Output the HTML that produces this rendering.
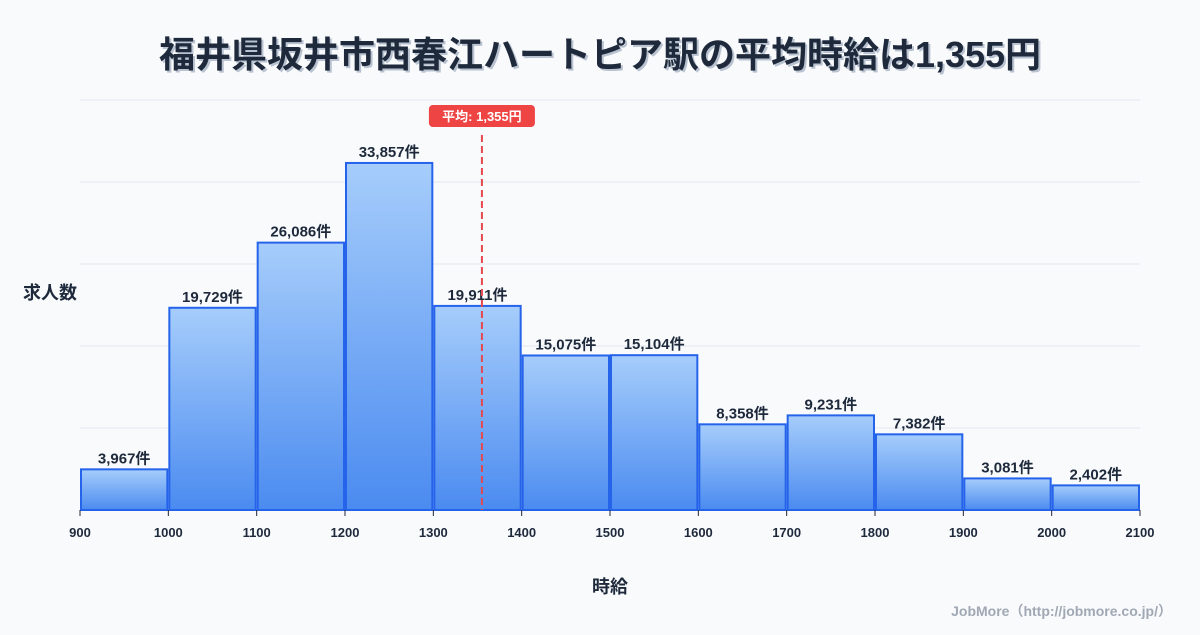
<!DOCTYPE html>
<html><head><meta charset="utf-8">
<style>
body{margin:0;background:#f8fafc;font-family:"Liberation Sans","Noto Sans CJK JP",sans-serif;}
svg text{font-family:"Liberation Sans","Noto Sans CJK JP",sans-serif;}
</style></head>
<body>
<svg id="c" width="1200" height="630" xmlns="http://www.w3.org/2000/svg">
<defs>
<linearGradient id="g" x1="0" y1="0" x2="0" y2="1">
<stop offset="0" stop-color="#a6cdfb"/><stop offset="1" stop-color="#4b8bf0"/>
</linearGradient>
</defs>
<rect width="1200" height="630" fill="#f8fafc"/>
<text x="602" y="69" text-anchor="middle" font-size="36" font-weight="bold" fill="#b8c2d0">福井県坂井市西春江ハートピア駅の平均時給は1,355円</text>
<text x="600" y="67" text-anchor="middle" font-size="36" font-weight="bold" fill="#1e293b">福井県坂井市西春江ハートピア駅の平均時給は1,355円</text>
<text x="50" y="299" text-anchor="middle" font-size="18" font-weight="bold" fill="#1e293b">求人数</text>
<text x="610" y="593" text-anchor="middle" font-size="18" font-weight="bold" fill="#1e293b">時給</text>
<text x="1172" y="616" text-anchor="end" font-size="14" font-weight="bold" fill="#a0a8b4">JobMore（http://jobmore.co.jp/）</text>
<g id="grid"></g><g id="bars"></g><g id="ticks"></g><g id="mean"></g>
</svg>
<script>
const binStarts=[900,1000,1100,1200,1300,1400,1500,1600,1700,1800,1900,2000];
const counts=[3967,19729,26086,33857,19911,15075,15104,8358,9231,7382,3081,2402];
const tickLabels=[900,1000,1100,1200,1300,1400,1500,1600,1700,1800,1900,2000,2100];
const gridValues=[0,8000,16000,24000,32000,40000];
const meanValue=1355;
const NS="http://www.w3.org/2000/svg";
const X=v=>80+(v-900)*(1060/1200);
const Y=v=>510-v*(410/40000);
function mk(t,a,p){const e=document.createElementNS(NS,t);for(const k in a)e.setAttribute(k,a[k]);p.appendChild(e);return e;}
const grid=document.getElementById('grid');
gridValues.forEach(v=>{const l=mk('line',{x1:80,x2:1140,y1:Y(v),y2:Y(v),stroke:'#e2e8f0','stroke-width':1},grid);

});
const bars=document.getElementById('bars');
binStarts.forEach((s,i)=>{
const x0=X(s)+1,x1=X(s+100)-1,y=Y(counts[i]);
const r=mk('rect',{x:x0,y:y,width:x1-x0,height:510-y,fill:'url(#g)',stroke:'#2563eb','stroke-width':2},bars);


const t=mk('text',{x:(x0+x1)/2,y:y-6,'text-anchor':'middle','font-size':15,'font-weight':'bold',fill:'#1e293b'},bars);
t.textContent=counts[i].toLocaleString('en-US')+'件';


});
const ticks=document.getElementById('ticks');
tickLabels.forEach(v=>{
const l=mk('line',{x1:X(v),x2:X(v),y1:510,y2:516,stroke:'#1e293b','stroke-width':1},ticks);


const t=mk('text',{x:X(v),y:537,'text-anchor':'middle','font-size':13,'font-weight':'bold',fill:'#1e293b'},ticks);
t.textContent=v;


});
const mean=document.getElementById('mean');
const mx=X(meanValue);
const ml=mk('line',{x1:mx,x2:mx,y1:135,y2:510,stroke:'#e5484d','stroke-width':2,'stroke-dasharray':'7,4'},mean);


const mb=mk('rect',{x:mx-53,y:105,width:106,height:22,rx:4,fill:'#ef4444'},mean);


const mt=mk('text',{x:mx,y:121,'text-anchor':'middle','font-size':13,'font-weight':'bold',fill:'#fff'},mean);
mt.textContent='平均: '+meanValue.toLocaleString('en-US')+'円';


</script>
</body></html>
